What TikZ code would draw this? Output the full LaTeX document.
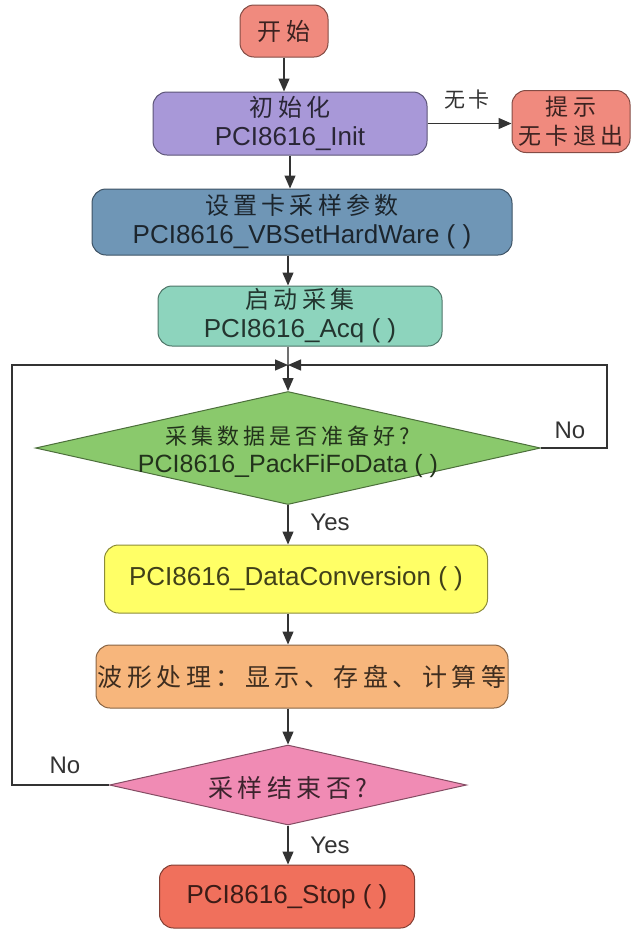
\documentclass[tikz,border=0pt]{standalone}
\usepackage{fontspec}
\setmainfont{Liberation Sans}
\newfontfamily\cjk[LetterSpace=18]{Noto Sans CJK SC}
\usetikzlibrary{shapes.geometric,arrows.meta}
\definecolor{cstart}{HTML}{F08A7E}
\definecolor{cinit}{HTML}{A898D8}
\definecolor{cvb}{HTML}{6F96B6}
\definecolor{cacq}{HTML}{8DD4BD}
\definecolor{cd1}{HTML}{8AC96C}
\definecolor{cdc}{HTML}{FFFF66}
\definecolor{cwave}{HTML}{F7B67C}
\definecolor{cd2}{HTML}{F08BB4}
\definecolor{cstop}{HTML}{F0705C}
\definecolor{cline}{HTML}{333333}
\begin{document}
\begin{tikzpicture}[x=1pt,y=-1pt,
  box/.style={draw=#1!55!black, fill=#1, rounded corners=14pt, line width=1pt,
    align=center, inner sep=0pt, text=#1!25!black,
    font=\fontsize{26}{29}\selectfont},
  dia/.style={diamond, draw=#1!55!black, fill=#1, line width=1pt, inner sep=0pt},
  dtext/.style={align=center, inner sep=0pt, text=#1!25!black, font=\fontsize{25}{28}\selectfont},
  arr/.style={draw=cline, line width=1.3pt, -{Triangle[length=13pt,width=11pt]}},
  ln/.style={draw=cline!70!white, line width=1.3pt},
  lbl/.style={text=cline, font=\fontsize{24}{28}\selectfont, inner sep=0pt},
  zh/.style={font=\cjk\fontsize{24}{29}\selectfont}]
\useasboundingbox (0,0) rectangle (633,930);

\node[box=cstart, minimum width=88, minimum height=52] (start) at (284,31) {{\cjk\fontsize{24}{29}\selectfont 开始}};
\node[box=cinit, minimum width=274, minimum height=63] (init) at (290,123.5) {{\cjk\fontsize{24}{29}\selectfont 初始化}\\PCI8616\_Init};
\node[box=cstart, minimum width=118, minimum height=62] (tip) at (571,121.5) {{\cjk\fontsize{23}{27}\selectfont 提示}\\{\cjk\fontsize{23}{27}\selectfont 无卡退出}};
\node[box=cvb, minimum width=420, minimum height=66] (vb) at (302,222) {{\cjk\fontsize{24}{29}\selectfont 设置卡采样参数}\\PCI8616\_VBSetHardWare ( )};
\node[box=cacq, minimum width=284, minimum height=60] (acq) at (300,316) {{\cjk\fontsize{24}{29}\selectfont 启动采集}\\PCI8616\_Acq ( )};

\node[dia=cd1, minimum width=505, minimum height=113] (d1) at (288,448) {};
\node[dtext=cd1] (d1t) at (288,452) {{\cjk\fontsize{22}{28}\selectfont 采集数据是否准备好?}\\PCI8616\_PackFiFoData ( )};

\node[box=cdc, minimum width=383, minimum height=68] (dc) at (296,579) {PCI8616\_DataConversion ( )};
\node[box=cwave, minimum width=412, minimum height=63] (wave) at (302,676.5) {{\cjk\fontsize{25}{29}\selectfont 波形处理：显示、存盘、计算等}};

\node[dia=cd2, minimum width=357, minimum height=80] (d2) at (288,785) {};
\node[dtext=cd2] (d2t) at (288,788) {{\cjk\fontsize{25}{29}\selectfont 采样结束否?}};

\node[box=cstop, minimum width=255, minimum height=63] (stop) at (287,896.5) {PCI8616\_Stop ( )};

\coordinate (jn) at (288,365);
\coordinate (lx) at (12,0);
\coordinate (rx) at (607,0);

\draw[arr] (start.south) -- (start.south |- init.north);
\draw[arr] (init.south) -- (init.south |- vb.north);
\draw[arr] (d1.north |- vb.south) -- (d1.north |- acq.north);
\draw[ln] (d1.north |- acq.south) -- (jn);
\draw[arr] (jn) -- (d1.north);
\draw[arr] (init.east) -- (init.east -| tip.west);
\node[lbl] (nk) at (467,100) {{\cjk\fontsize{21}{25}\selectfont 无卡}};

\draw[arr] (d2.west) -- (lx |- d2.west) -- (lx |- jn) -- (jn);
\draw[arr] (d1.east) -- (rx |- d1.east) -- (rx |- jn) -- (jn);
\node[lbl] (no1) at (570,430) {No};
\node[lbl] (no2) at (65,765) {No};

\draw[arr] (d1.south) -- (d1.south |- dc.north);
\node[lbl] (y1) at (330,522) {Yes};
\draw[arr] (d1.south |- dc.south) -- (d1.south |- wave.north);
\draw[arr] (d1.south |- wave.south) -- (d2.north);
\draw[arr] (d2.south) -- (d2.south |- stop.north);
\node[lbl] (y2) at (330,845) {Yes};
\end{tikzpicture}
\end{document}
